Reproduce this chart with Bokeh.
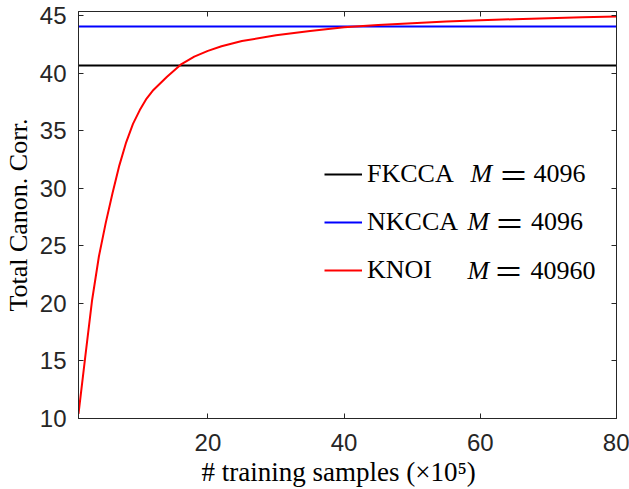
from bokeh.plotting import figure
from bokeh.models import Range1d, LinearAxis, FixedTicker, Legend, LegendItem, Label, Title
from bokeh.embed import file_html
from bokeh.resources import INLINE

# ---- data ----
samples = [1, 2, 3, 4, 5, 6, 7, 8, 9, 10, 11, 12, 14, 16, 18, 20, 22, 25, 30, 35,
           40, 45, 50, 55, 60, 65, 70, 75, 80]
knoi = [10.4, 15.4, 20.3, 24.1, 27.0, 29.6, 32.0, 34.0, 35.6, 36.8, 37.8, 38.55, 39.7,
        40.75, 41.45, 41.95, 42.35, 42.8, 43.3, 43.67, 44.0, 44.2, 44.35, 44.5, 44.6,
        44.7, 44.78, 44.86, 44.93]
fkcca_level = 40.67
nkcca_level = 44.07
x_ticks = [20, 40, 60, 80]
y_ticks = [10, 15, 20, 25, 30, 35, 40, 45]
names = ["FKCCA", "NKCCA", "KNOI"]
m_values = ["4096", "4096", "40960"]
colors = ["#000000", "#0000ff", "#ff0000"]
x_label = "# training samples (×10⁵)"
y_label = "Total Canon. Corr."

AX = "#262626"

p = figure(width=629, height=489, output_backend="svg", toolbar_location=None,
           x_range=Range1d(1, 80), y_range=Range1d(10, 45.37),
           min_border_left=78, min_border_right=13, min_border_top=11, min_border_bottom=71)
p.background_fill_color = "white"
p.border_fill_color = "white"
p.outline_line_color = AX
p.outline_line_width = 1
p.grid.visible = False

for ax in (p.xaxis[0], p.yaxis[0]):
    ax.major_tick_in = 5
    ax.major_tick_out = 0
    ax.minor_tick_in = 0
    ax.minor_tick_out = 0
    ax.axis_line_color = AX
    ax.major_tick_line_color = AX
    ax.major_label_text_color = AX
    ax.major_label_text_font = "Liberation Sans"
    ax.major_label_text_font_size = "24px"
    ax.axis_label_text_font = "Liberation Serif"
    ax.axis_label_text_font_style = "normal"
    ax.axis_label_text_color = "black"
    ax.axis_label_text_font_size = "26px"

p.xaxis[0].ticker = FixedTicker(ticks=x_ticks)
p.yaxis[0].ticker = FixedTicker(ticks=y_ticks)
p.yaxis[0].axis_label = y_label
p.xaxis[0].major_label_standoff = 15
p.yaxis[0].major_label_standoff = 12
p.yaxis[0].axis_label_standoff = 4

# x axis title in its own panel below the axis
p.add_layout(Title(text=x_label, align="left", offset=123, standoff=2,
                   text_font="Liberation Serif", text_font_size="27px",
                   text_font_style="normal", text_color="black"), "below")

# mirrored ticks (box on)
top = LinearAxis(ticker=FixedTicker(ticks=x_ticks))
right = LinearAxis(ticker=FixedTicker(ticks=y_ticks))
for ax in (top, right):
    ax.major_tick_in = 5
    ax.major_tick_out = 0
    ax.minor_tick_in = 0
    ax.minor_tick_out = 0
    ax.axis_line_color = AX
    ax.major_tick_line_color = AX
    ax.major_label_text_font_size = "1px"
    ax.major_label_text_alpha = 0
    ax.major_label_standoff = 0
p.add_layout(top, "above")
p.add_layout(right, "right")

r_f = p.line(x=[samples[0], samples[-1]], y=[fkcca_level, fkcca_level], line_color=colors[0], line_width=2)
r_n = p.line(x=[samples[0], samples[-1]], y=[nkcca_level, nkcca_level], line_color=colors[1], line_width=2)
r_k = p.line(x=samples, y=knoi, line_color=colors[2], line_width=2)

legend = Legend(items=[LegendItem(label=names[0], renderers=[r_f]),
                       LegendItem(label=names[1], renderers=[r_n]),
                       LegendItem(label=names[2], renderers=[r_k])],
                location=(246, 124), padding=0, margin=0, spacing=0,
                glyph_width=38, glyph_height=48, label_height=48, label_standoff=5,
                label_text_font="Liberation Serif", label_text_font_size="26px",
                label_text_color="black", border_line_color=None,
                background_fill_alpha=0)
p.add_layout(legend)

row_y = [245, 197, 148.5]
m_x = [392, 389, 389]
eq_x = [435, 431, 430]
num_x = [455, 452.5, 452]
for i in range(3):
    p.add_layout(Label(x=m_x[i], y=row_y[i], x_units="screen", y_units="screen", text="M",
                       text_font="Liberation Serif", text_font_style="italic",
                       text_font_size="26px", text_baseline="middle", text_color="black"))
    p.add_layout(Label(x=eq_x[i], y=row_y[i], x_units="screen", y_units="screen", text="＝",
                       text_font="Noto Sans CJK JP", text_font_size="30px",
                       text_align="center", text_baseline="middle", text_color="black"))
    p.add_layout(Label(x=num_x[i], y=row_y[i], x_units="screen", y_units="screen", text=m_values[i],
                       text_font="Liberation Serif", text_font_size="26px",
                       text_baseline="middle", text_color="black"))

open("out.html", "w").write(file_html(p, INLINE))
